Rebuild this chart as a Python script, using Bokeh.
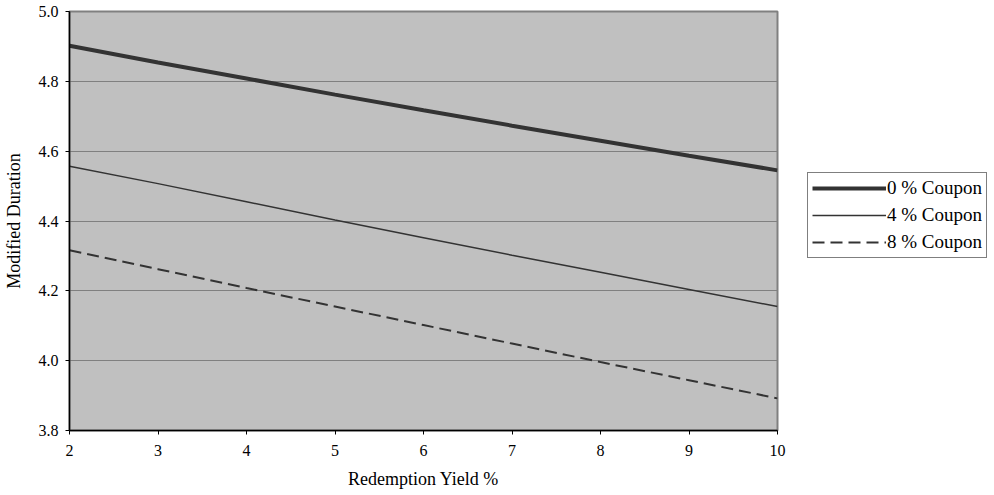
from bokeh.plotting import figure
from bokeh.models import Legend, LegendItem, FixedTicker, Range1d, CustomJSTickFormatter
from bokeh.embed import file_html
from bokeh.resources import INLINE

# Modified duration of a 5-year annual bond against redemption yield
yields = [2, 3, 4, 5, 6, 7, 8, 9, 10]
dur_0pct = [4.902, 4.854, 4.808, 4.762, 4.717, 4.673, 4.630, 4.587, 4.545]
dur_4pct = [4.557, 4.507, 4.455, 4.403, 4.352, 4.302, 4.253, 4.204, 4.155]
dur_8pct = [4.316, 4.262, 4.208, 4.155, 4.102, 4.049, 3.996, 3.944, 3.892]
series_labels = ["0 % Coupon", "4 % Coupon", "8 % Coupon"]
x_ticks = [2, 3, 4, 5, 6, 7, 8, 9, 10]
y_ticks = [3.8, 4.0, 4.2, 4.4, 4.6, 4.8, 5.0]

FONT = "Liberation Serif"

p = figure(
    frame_width=708, frame_height=419,
    min_border_left=64, min_border_top=11, min_border_bottom=65, min_border_right=0,
    output_backend="svg", toolbar_location=None,
    x_range=Range1d(2, 10), y_range=Range1d(3.8, 5.0),
    background_fill_color="#C0C0C0", border_fill_color="white",
)
p.outline_line_color = "#808080"
p.outline_line_width = 2

p.xgrid.visible = False
p.ygrid.grid_line_color = "#808080"
p.ygrid.grid_line_width = 1

for ax in (p.xaxis, p.yaxis):
    ax.axis_line_color = "black"
    ax.axis_line_width = 1.5
    ax.major_tick_line_color = "black"
    ax.major_tick_out = 4
    ax.major_tick_in = 0
    ax.minor_tick_line_color = None
    ax.major_label_text_font = FONT
    ax.major_label_text_font_size = "16px"
    ax.major_label_text_color = "black"
    ax.axis_label_text_font = FONT
    ax.axis_label_text_font_style = "normal"
    ax.axis_label_text_font_size = "18px"
    ax.axis_label_text_color = "black"

p.xaxis.ticker = FixedTicker(ticks=x_ticks)
p.yaxis.ticker = FixedTicker(ticks=y_ticks)
p.yaxis.formatter = CustomJSTickFormatter(code="return tick.toFixed(1);")
p.xaxis.axis_label = "Redemption Yield %"
p.yaxis.axis_label = "Modified Duration"
p.xaxis.major_label_standoff = 10
p.yaxis.major_label_standoff = 7
p.xaxis.axis_label_standoff = 10
p.yaxis.axis_label_standoff = 12

r0 = p.line(yields, dur_0pct, line_color="#333333", line_width=4)
r4 = p.line(yields, dur_4pct, line_color="#333333", line_width=1.5)
r8 = p.line(yields, dur_8pct, line_color="#333333", line_width=2, line_dash="12 6")

# Legend sits in the right-hand panel, beside the plot frame
legend = Legend(
    items=[LegendItem(label=series_labels[0], renderers=[r0]),
           LegendItem(label=series_labels[1], renderers=[r4]),
           LegendItem(label=series_labels[2], renderers=[r8])],
    location=(30, 172),
    orientation="vertical",
    border_line_color="black", border_line_width=1,
    background_fill_color="white", background_fill_alpha=1,
    label_text_font=FONT, label_text_font_size="19px", label_text_color="black",
    glyph_width=74, glyph_height=20, label_height=20, label_standoff=1,
    spacing=5, padding=4, margin=0,
)
p.add_layout(legend, "right")

open("out.html", "w").write(file_html(p, INLINE))
